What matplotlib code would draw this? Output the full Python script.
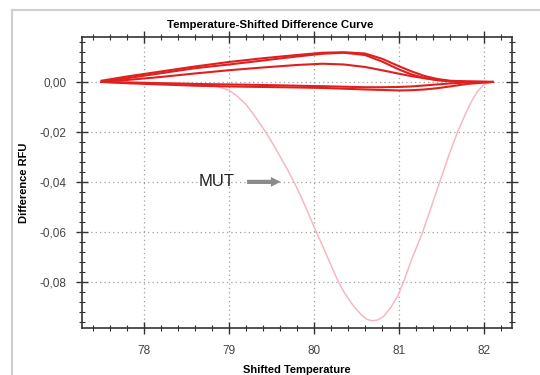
import matplotlib
matplotlib.use("Agg")
import matplotlib.pyplot as plt
from matplotlib.ticker import MultipleLocator, FuncFormatter
from matplotlib.lines import Line2D

plt.rcParams['font.family'] = ['Liberation Sans', 'DejaVu Sans']

# shifted temperature grid shared by the wild-type curves
temp = [77.5, 77.8, 78.2, 78.6, 79.0, 79.4, 79.8, 80.1, 80.35, 80.6, 80.8, 81.0,
        81.15, 81.3, 81.45, 81.6, 81.8, 82.1]
wt_high_a = [0.0005, 0.0022, 0.0042, 0.0062, 0.0080, 0.0095, 0.0108, 0.0117, 0.0119, 0.0114,
             0.0093, 0.0063, 0.0042, 0.0024, 0.0012, 0.0005, 0.0002, 0.0]
wt_high_b = [0.0, 0.0015, 0.0035, 0.0055, 0.0070, 0.0086, 0.0102, 0.0113, 0.0117, 0.0108,
             0.0082, 0.0050, 0.0030, 0.0016, 0.0007, 0.0003, 0.0001, 0.0]
wt_mid = [0.0, 0.0008, 0.0020, 0.0034, 0.0047, 0.0058, 0.0068, 0.0073, 0.0070, 0.0060,
          0.0047, 0.0033, 0.0023, 0.0015, 0.0008, 0.0003, 0.0001, 0.0]
wt_low_a = [0.0, -0.0005, -0.0010, -0.0015, -0.0018, -0.0020, -0.0022, -0.0024, -0.0027, -0.0030,
            -0.0032, -0.0034, -0.0033, -0.0030, -0.0025, -0.0018, -0.0008, 0.0]
wt_low_b = [0.0, -0.0002, -0.0005, -0.0008, -0.0010, -0.0012, -0.0015, -0.0017, -0.0019, -0.0021,
            -0.0021, -0.0020, -0.0018, -0.0014, -0.0010, -0.0006, -0.0002, 0.0]

# mutant sample
mut_temp = [77.5, 78.0, 78.5, 78.8, 79.0, 79.1, 79.2, 79.3, 79.43, 79.52, 79.6, 79.7, 79.8,
            79.9, 80.02, 80.1, 80.17, 80.26, 80.35, 80.45, 80.55, 80.62, 80.68, 80.75, 80.82,
            80.9, 80.98, 81.055, 81.15, 81.28, 81.38, 81.48, 81.58, 81.69, 81.78, 81.85,
            81.92, 81.99, 82.08]
mut_diff = [0.0, -0.0002, -0.0005, -0.0012, -0.0033, -0.0058, -0.0090, -0.0135, -0.020, -0.025,
            -0.0298, -0.0358, -0.0425, -0.050, -0.0595, -0.0655, -0.071, -0.078, -0.084, -0.089,
            -0.093, -0.0950, -0.0956, -0.0953, -0.0938, -0.0905, -0.0860, -0.080, -0.071,
            -0.060, -0.050, -0.040, -0.030, -0.020, -0.013, -0.008, -0.004, -0.0013, 0.0]

RED = "#e0201e"
PINK = "#f5b8c2"
TXT = "#444444"

fig = plt.figure(figsize=(5.4, 3.75), dpi=100)
fig.patch.set_facecolor("white")
ax = fig.add_axes([82 / 540, 1 - 328 / 375, 430 / 540, 291 / 375])

ax.plot(mut_temp, mut_diff, color=PINK, lw=1.1, zorder=2)
for vals in (wt_low_b, wt_low_a, wt_mid, wt_high_b, wt_high_a):
    ax.plot(temp, vals, color=RED, lw=1.5, zorder=3)

ax.set_xlim(77.27, 82.33)
ax.set_ylim(-0.0985, 0.018)
ax.xaxis.set_major_locator(MultipleLocator(1))
ax.xaxis.set_minor_locator(MultipleLocator(0.2))
ax.yaxis.set_major_locator(MultipleLocator(0.02))
ax.yaxis.set_minor_locator(MultipleLocator(0.004))
ax.yaxis.set_major_formatter(FuncFormatter(
    lambda v, p: f"{0.0 if abs(v) < 1e-9 else v:.2f}".replace(".", ",")))
ax.xaxis.set_major_formatter(FuncFormatter(lambda v, p: f"{v:.0f}"))

ax.tick_params(which="both", direction="inout", top=True, right=True,
               colors="#333333", labelcolor=TXT, labelsize=8.5)
ax.tick_params(which="major", length=8, width=1)
ax.tick_params(which="minor", length=5, width=0.8)
ax.tick_params(axis="y", pad=7)
ax.tick_params(axis="x", pad=8)
ax.grid(which="major", color="#a0a0a0", linestyle=(0, (1, 2.5)), linewidth=0.9)
for spine in ax.spines.values():
    spine.set_color("#333333")
    spine.set_linewidth(1.2)

ax.set_xlabel("Shifted Temperature", fontsize=8, fontweight="bold", labelpad=6)
ax.set_ylabel("Difference RFU", fontsize=8, fontweight="bold", labelpad=8)
fig.text(0.5, 1 - 25 / 375, "Temperature-Shifted Difference Curve",
         ha="center", va="center", fontsize=8.2, fontweight="bold")

ax.text(78.85, -0.04, "MUT", ha="center", va="center", fontsize=12, color="#222222", zorder=5)
ax.annotate("", xy=(79.64, -0.04), xytext=(79.18, -0.04),
            arrowprops=dict(arrowstyle="simple,head_length=0.7,head_width=0.7,tail_width=0.3",
                            color="#8a8a8a", lw=0), zorder=5)

# light panel border
fig.add_artist(Line2D([12 / 540, 12 / 540], [0, 1 - 10 / 375], color="#cfcfcf", lw=1.5))
fig.add_artist(Line2D([12 / 540, 1], [1 - 10 / 375, 1 - 10 / 375], color="#cfcfcf", lw=1.5))

fig.savefig("out.png", dpi=100, facecolor="white")
